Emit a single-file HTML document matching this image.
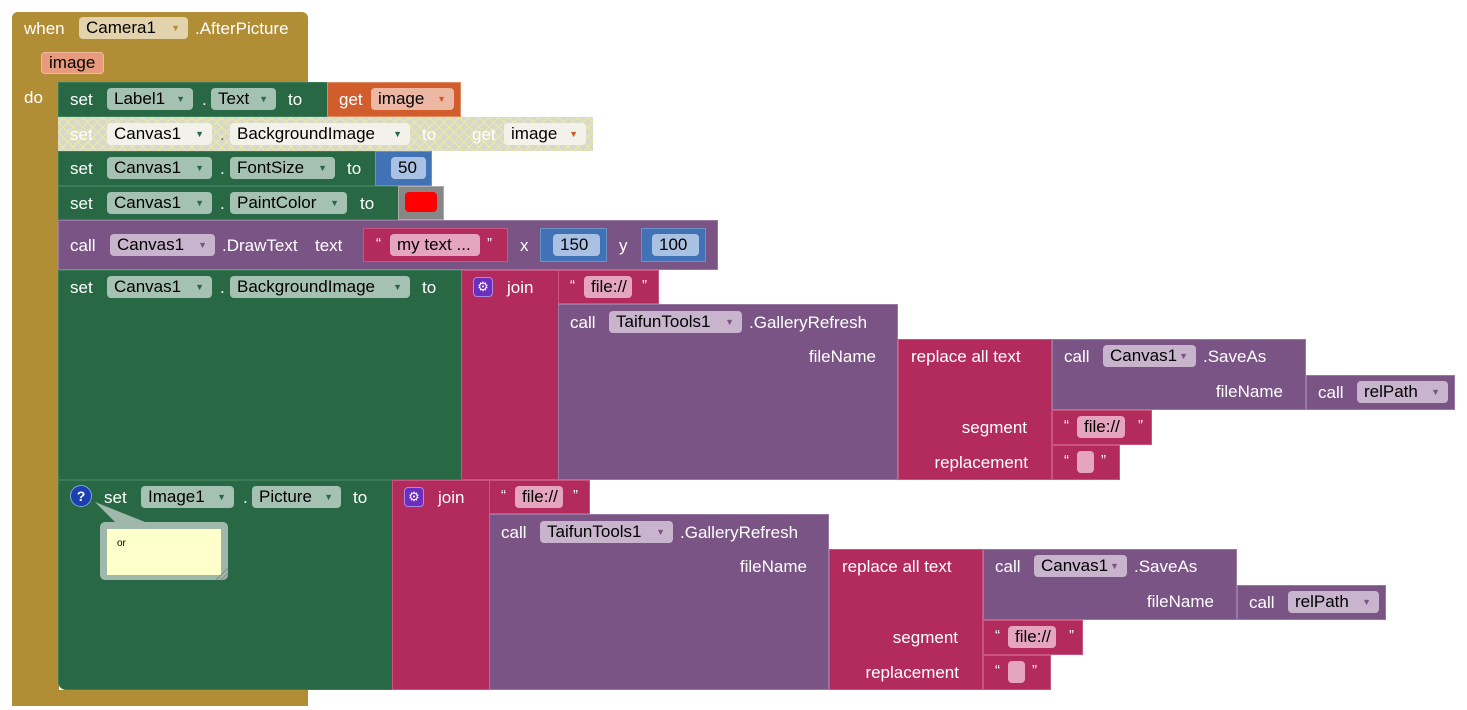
<!DOCTYPE html>
<html><head><meta charset="utf-8"><style>
body{margin:0;width:1467px;height:710px;background:#fff;position:relative;overflow:hidden;font-family:"Liberation Sans",sans-serif;font-size:17px}
div,span{position:absolute;box-sizing:border-box}
.t{color:#fff;line-height:20px;white-space:nowrap}
.q{font-size:15px!important}
.r{text-align:right}
.f{height:22px;border-radius:4px;color:#000;line-height:22px;padding-left:7px;white-space:nowrap}
.f i{position:absolute;right:8px;top:0;font-style:normal;font-size:9px}
.g{background:#286845;border:1px solid #3b7d58}
.p{background:#7b5486;border:1px solid #9a78a4}
.m{background:#b22b5c;border:1px solid #c9557f}
.gf{background:#a4c1b1}.gf i{color:#286845}
.pf{background:#c9b4cd}.pf i{color:#7b5486}
.mf{background:#e6a5bf}
.bl{background:#4172b6;border:1px solid #6a92c8}
.bf{background:#a9c1e3}
</style></head><body>
<div style="left:12px;top:12px;width:296px;height:70px;background:#b18e35;border-radius:6px 6px 0 0"></div>
<div style="left:12px;top:12px;width:47px;height:694px;background:#b18e35;border-radius:6px 0 0 6px"></div>
<div style="left:12px;top:690px;width:296px;height:16px;background:#b18e35"></div>
<span class="t" style="left:24px;top:19px">when</span>
<div class="f" style="left:79px;top:17px;width:109px;background:#e2d3ad">Camera1<i style="color:#b18e35">▼</i></div>
<span class="t" style="left:195px;top:19px">.AfterPicture</span>
<div class="f" style="left:41px;top:52px;width:63px;background:#e89a7d;border:1px solid #f0b9a4;line-height:20px">image</div>
<span class="t" style="left:24px;top:88px">do</span>

<div class="g" style="left:58px;top:82px;width:270px;height:35px"></div>
<span class="t" style="left:70px;top:90px">set</span>
<div class="f gf" style="left:107px;top:88px;width:86px">Label1<i>▼</i></div>
<span class="t" style="left:202px;top:90px">.</span>
<div class="f gf" style="left:211px;top:88px;width:65px">Text<i>▼</i></div>
<span class="t" style="left:288px;top:90px">to</span>
<div style="left:327px;top:82px;width:134px;height:35px;background:#d15d2c;border:1px solid #e08a63"></div>
<span class="t" style="left:339px;top:90px">get</span>
<div class="f" style="left:371px;top:88px;width:83px;background:#ecb8a3">image<i style="color:#d15d2c">▼</i></div>

<div style="left:58px;top:117px;width:535px;height:34px;background:#d8d8cc;background-image:repeating-linear-gradient(45deg,transparent 0 6px,#ecec9c 6px 7px),repeating-linear-gradient(-45deg,transparent 0 6px,#ecec9c 6px 7px)"></div>
<span class="t" style="left:70px;top:125px">set</span>
<div class="f" style="left:107px;top:123px;width:105px;background:#f2f2ea">Canvas1<i style="color:#286845">▼</i></div>
<span class="t" style="left:220px;top:125px;color:#666">.</span>
<div class="f" style="left:230px;top:123px;width:180px;background:#f2f2ea">BackgroundImage<i style="color:#286845">▼</i></div>
<span class="t" style="left:422px;top:125px">to</span>
<span class="t" style="left:472px;top:125px">get</span>
<div class="f" style="left:504px;top:123px;width:82px;background:#f2f2ea">image<i style="color:#d15d2c">▼</i></div>

<div class="g" style="left:58px;top:151px;width:318px;height:35px"></div>
<span class="t" style="left:70px;top:159px">set</span>
<div class="f gf" style="left:107px;top:157px;width:105px">Canvas1<i>▼</i></div>
<span class="t" style="left:220px;top:159px">.</span>
<div class="f gf" style="left:230px;top:157px;width:105px">FontSize<i>▼</i></div>
<span class="t" style="left:347px;top:159px">to</span>
<div class="bl" style="left:375px;top:151px;width:57px;height:35px"></div>
<div class="f bf" style="left:391px;top:157px;width:35px">50</div>

<div class="g" style="left:58px;top:186px;width:341px;height:34px"></div>
<span class="t" style="left:70px;top:194px">set</span>
<div class="f gf" style="left:107px;top:192px;width:105px">Canvas1<i>▼</i></div>
<span class="t" style="left:220px;top:194px">.</span>
<div class="f gf" style="left:230px;top:192px;width:117px">PaintColor<i>▼</i></div>
<span class="t" style="left:360px;top:194px">to</span>
<div style="left:398px;top:186px;width:46px;height:34px;background:#878787;border:1px solid #aaa"></div>
<div style="left:405px;top:192px;width:32px;height:20px;background:#f00;border-radius:4px"></div>

<div class="p" style="left:58px;top:220px;width:660px;height:50px"></div>
<span class="t" style="left:70px;top:236px">call</span>
<div class="f pf" style="left:110px;top:234px;width:105px">Canvas1<i>▼</i></div>
<span class="t" style="left:222px;top:236px">.DrawText</span>
<span class="t" style="left:315px;top:236px">text</span>
<div class="m" style="left:363px;top:228px;width:145px;height:34px"></div>
<span class="t q" style="left:376px;top:234px">“</span>
<div class="f mf" style="left:390px;top:234px;width:90px">my text ...</div>
<span class="t q" style="left:487px;top:234px">”</span>
<span class="t" style="left:520px;top:236px">x</span>
<div class="bl" style="left:540px;top:228px;width:67px;height:34px"></div>
<div class="f bf" style="left:553px;top:234px;width:47px">150</div>
<span class="t" style="left:619px;top:236px">y</span>
<div class="bl" style="left:641px;top:228px;width:65px;height:34px"></div>
<div class="f bf" style="left:652px;top:234px;width:47px">100</div>

<div class="g" style="left:58px;top:270px;width:404px;height:210px"></div>
<span class="t" style="left:70px;top:278px">set</span>
<div class="f gf" style="left:107px;top:276px;width:105px">Canvas1<i>▼</i></div>
<span class="t" style="left:220px;top:278px">.</span>
<div class="f gf" style="left:230px;top:276px;width:180px">BackgroundImage<i>▼</i></div>
<span class="t" style="left:422px;top:278px">to</span>

<div class="g" style="left:58px;top:480px;width:335px;height:210px;border-radius:0 0 0 8px"></div>
<div style="left:70px;top:485px;width:22px;height:22px;border-radius:50%;background:#1a3fb0;border:1px solid #8aa0e0;color:#fff;font-weight:bold;font-size:14px;line-height:20px;text-align:center">?</div>
<span class="t" style="left:104px;top:488px">set</span>
<div class="f gf" style="left:141px;top:486px;width:93px">Image1<i>▼</i></div>
<span class="t" style="left:243px;top:488px">.</span>
<div class="f gf" style="left:252px;top:486px;width:89px">Picture<i>▼</i></div>
<span class="t" style="left:353px;top:488px">to</span>
<svg style="position:absolute;left:85px;top:500px" width="160" height="85"><polygon points="10,2 30,22 60,22" fill="#a0b8ab"/><rect x="15" y="22" width="128" height="58" rx="5" fill="#a0b8ab"/><rect x="22" y="29" width="114" height="46" fill="#ffffcc"/><path d="M131 80 L143 68 M136 80 L143 73" stroke="#888"/></svg>
<span style="left:117px;top:538px;font-size:10px;color:#000">or</span>

<div style="left:461px;top:270px;width:1000px;height:210px">
 <div class="m" style="left:0;top:0;width:98px;height:210px"></div>
 <div style="left:12px;top:7px;width:20px;height:20px;border-radius:4px;background:#6a2ec0;border:1px solid #a88be0;color:#fff;font-size:13px;line-height:18px;text-align:center">⚙</div>
 <span class="t" style="left:46px;top:8px">join</span>
 <div class="m" style="left:97px;top:0;width:101px;height:34px"></div>
 <span class="t q" style="left:109px;top:6px">“</span>
 <div class="f mf" style="left:123px;top:6px;width:48px">file://</div>
 <span class="t q" style="left:181px;top:6px">”</span>
 <div class="p" style="left:97px;top:34px;width:340px;height:176px"></div>
 <span class="t" style="left:109px;top:43px">call</span>
 <div class="f pf" style="left:148px;top:41px;width:133px">TaifunTools1<i>▼</i></div>
 <span class="t" style="left:288px;top:43px">.GalleryRefresh</span>
 <span class="t r" style="left:300px;width:115px;top:77px">fileName</span>
 <div class="m" style="left:437px;top:69px;width:154px;height:141px"></div>
 <span class="t" style="left:450px;top:77px">replace all text</span>
 <span class="t r" style="left:450px;width:116px;top:148px">segment</span>
 <span class="t r" style="left:450px;width:117px;top:183px">replacement</span>
 <div class="p" style="left:591px;top:69px;width:254px;height:71px"></div>
 <span class="t" style="left:603px;top:77px">call</span>
 <div class="f pf" style="left:642px;top:75px;width:93px">Canvas1<i>▼</i></div>
 <span class="t" style="left:742px;top:77px">.SaveAs</span>
 <span class="t r" style="left:700px;width:122px;top:112px">fileName</span>
 <div class="p" style="left:845px;top:105px;width:149px;height:35px"></div>
 <span class="t" style="left:857px;top:113px">call</span>
 <div class="f pf" style="left:896px;top:111px;width:91px">relPath<i>▼</i></div>
 <div class="m" style="left:591px;top:140px;width:100px;height:35px"></div>
 <span class="t q" style="left:603px;top:146px">“</span>
 <div class="f mf" style="left:616px;top:146px;width:48px">file://</div>
 <span class="t q" style="left:677px;top:146px">”</span>
 <div class="m" style="left:591px;top:175px;width:68px;height:35px"></div>
 <span class="t q" style="left:603px;top:181px">“</span>
 <div class="f mf" style="left:616px;top:181px;width:17px"></div>
 <span class="t q" style="left:640px;top:181px">”</span>
</div>
<div style="left:392px;top:480px;width:1000px;height:210px">
 <div class="m" style="left:0;top:0;width:98px;height:210px"></div>
 <div style="left:12px;top:7px;width:20px;height:20px;border-radius:4px;background:#6a2ec0;border:1px solid #a88be0;color:#fff;font-size:13px;line-height:18px;text-align:center">⚙</div>
 <span class="t" style="left:46px;top:8px">join</span>
 <div class="m" style="left:97px;top:0;width:101px;height:34px"></div>
 <span class="t q" style="left:109px;top:6px">“</span>
 <div class="f mf" style="left:123px;top:6px;width:48px">file://</div>
 <span class="t q" style="left:181px;top:6px">”</span>
 <div class="p" style="left:97px;top:34px;width:340px;height:176px"></div>
 <span class="t" style="left:109px;top:43px">call</span>
 <div class="f pf" style="left:148px;top:41px;width:133px">TaifunTools1<i>▼</i></div>
 <span class="t" style="left:288px;top:43px">.GalleryRefresh</span>
 <span class="t r" style="left:300px;width:115px;top:77px">fileName</span>
 <div class="m" style="left:437px;top:69px;width:154px;height:141px"></div>
 <span class="t" style="left:450px;top:77px">replace all text</span>
 <span class="t r" style="left:450px;width:116px;top:148px">segment</span>
 <span class="t r" style="left:450px;width:117px;top:183px">replacement</span>
 <div class="p" style="left:591px;top:69px;width:254px;height:71px"></div>
 <span class="t" style="left:603px;top:77px">call</span>
 <div class="f pf" style="left:642px;top:75px;width:93px">Canvas1<i>▼</i></div>
 <span class="t" style="left:742px;top:77px">.SaveAs</span>
 <span class="t r" style="left:700px;width:122px;top:112px">fileName</span>
 <div class="p" style="left:845px;top:105px;width:149px;height:35px"></div>
 <span class="t" style="left:857px;top:113px">call</span>
 <div class="f pf" style="left:896px;top:111px;width:91px">relPath<i>▼</i></div>
 <div class="m" style="left:591px;top:140px;width:100px;height:35px"></div>
 <span class="t q" style="left:603px;top:146px">“</span>
 <div class="f mf" style="left:616px;top:146px;width:48px">file://</div>
 <span class="t q" style="left:677px;top:146px">”</span>
 <div class="m" style="left:591px;top:175px;width:68px;height:35px"></div>
 <span class="t q" style="left:603px;top:181px">“</span>
 <div class="f mf" style="left:616px;top:181px;width:17px"></div>
 <span class="t q" style="left:640px;top:181px">”</span>
</div>
</body></html>
